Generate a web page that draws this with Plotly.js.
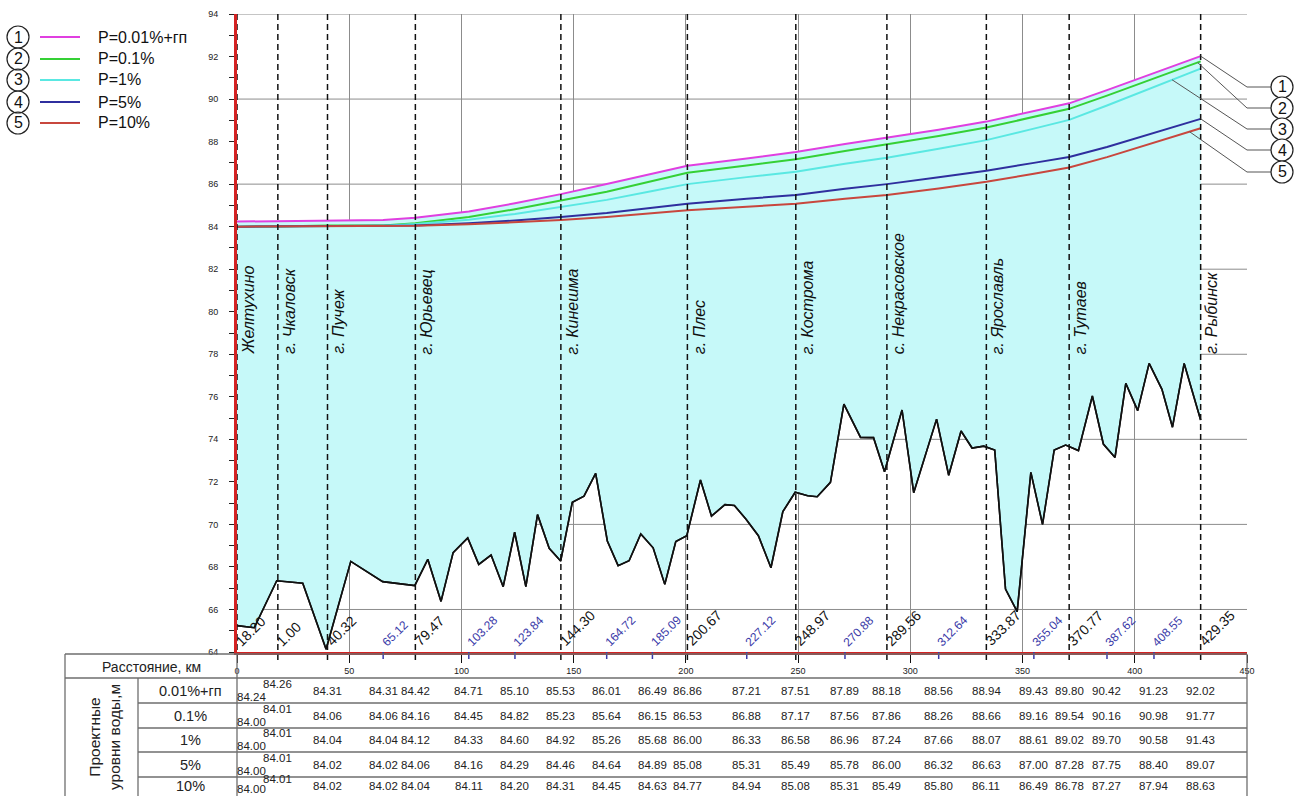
<!DOCTYPE html>
<html><head><meta charset="utf-8">
<script src="https://cdn.plot.ly/plotly-3.0.1.min.js"></script>
<style>html,body{margin:0;padding:0;background:#fff}#chart{width:1299px;height:796px}</style>
</head><body><div id="chart"></div>
<script>
// ---------- DATA ----------
const pointKm = [0, 18.2, 40.32, 65.12, 79.47, 103.28, 123.84, 144.30, 164.72, 185.09, 200.67, 227.12, 248.97, 270.88, 289.56, 312.64, 333.87, 355.04, 370.77, 387.62, 408.55, 429.35];
const pointLabels = ["18.20","1.00","40.32","65.12","79.47","103.28","123.84","144.30","164.72","185.09","200.67","227.12","248.97","270.88","289.56","312.64","333.87","355.04","370.77","387.62","408.55","429.35"];
const pointIsTown = [1,1,1,0,1,0,0,1,0,0,1,0,1,0,1,0,1,0,1,0,0,1];
const townNames = ["Желтухино","г. Чкаловск","г. Пучеж","г. Юрьевец","г. Кинешма","г. Плес","г. Кострома","с. Некрасовское","г. Ярославль","г. Тутаев","г. Рыбинск"];

const level001 = [84.24,84.26,84.31,84.31,84.42,84.71,85.10,85.53,86.01,86.49,86.86,87.21,87.51,87.89,88.18,88.56,88.94,89.43,89.80,90.42,91.23,92.02];
const level01  = [84.00,84.01,84.06,84.06,84.16,84.45,84.82,85.23,85.64,86.15,86.53,86.88,87.17,87.56,87.86,88.26,88.66,89.16,89.54,90.16,90.98,91.77];
const level1   = [84.00,84.01,84.04,84.04,84.12,84.33,84.60,84.92,85.26,85.68,86.00,86.33,86.58,86.96,87.24,87.66,88.07,88.61,89.02,89.70,90.58,91.43];
const level5   = [84.00,84.01,84.02,84.02,84.06,84.16,84.29,84.46,84.64,84.89,85.08,85.31,85.49,85.78,86.00,86.32,86.63,87.00,87.28,87.75,88.40,89.07];
const level10  = [84.00,84.01,84.02,84.02,84.04,84.11,84.20,84.31,84.45,84.63,84.77,84.94,85.08,85.31,85.49,85.80,86.11,86.49,86.78,87.27,87.94,88.63];

const seriesNames = ["P=0.01%+гп","P=0.1%","P=1%","P=5%","P=10%"];
const rowLabels = ["0.01%+гп","0.1%","1%","5%","10%"];

const bedKm = [0,7.7,17.7,29.3,39.7,50.7,64.9,79.2,85.0,90.9,96.3,102.8,107.7,113.2,118.6,123.7,128.7,133.9,139.1,144.2,149.4,154.6,159.8,165.0,169.8,174.7,179.9,185.4,190.6,195.5,200.4,206.5,211.4,217.4,221.6,226.8,232.3,237.9,243.2,248.7,254.3,258.5,264.4,270.4,277.8,283.6,288.5,296.3,301.5,311.7,317.1,322.6,327.5,332.7,337.6,342.4,347.6,353.7,358.9,364.1,369.2,374.9,381.1,386.0,391.2,396.0,401.3,406.4,412.1,416.8,422.0,429.35];
const bedLevel = [65.24,65.14,67.35,67.23,64.13,68.26,67.31,67.12,68.36,66.38,68.67,69.36,68.12,68.56,67.07,69.63,67.07,70.46,68.88,68.28,71.04,71.33,72.40,69.22,68.06,68.29,69.55,68.90,67.18,69.19,69.47,72.09,70.39,70.93,70.89,70.24,69.47,67.96,70.60,71.51,71.35,71.30,71.98,75.66,74.09,74.08,72.48,75.38,71.49,74.95,72.31,74.39,73.59,73.68,73.50,66.96,65.90,72.45,70.00,73.50,73.73,73.47,76.04,73.78,73.15,76.63,75.35,77.57,76.35,74.57,77.57,74.91];

const xTickVals = [0,50,100,150,200,250,300,350,400,450];
const yTickVals = [64,66,68,70,72,74,76,78,80,82,84,86,88,90,92,94];
const yGridVals = [66,70,74,78,82,86,90,94];

// ---------- STYLE / LAYOUT HELPERS ----------
const W=1299, H=796, L=237, R=52, T=14, B=144;
const PW=W-L-R, PH=H-T-B;
const px = X => (X-L)/PW;
const py = Y => (H-B-Y)/PH;
const yFromPix = Y => 64 + (H-B-Y)/PH*30;
const colors = ["#e03fe0","#35d035","#5ae8e2","#2f2f9e","#c8473e"];
const levels = [level001, level01, level1, level5, level10];
const FONT = "Liberation Sans, Arial, sans-serif";

function interp(xs, ys, x){
  for(let i=1;i<xs.length;i++){ if(x<=xs[i]){ const t=(x-xs[i-1])/(xs[i]-xs[i-1]); return ys[i-1]+t*(ys[i]-ys[i-1]); } }
  return ys[ys.length-1];
}

// ---------- TRACES ----------
const traces = [];
traces.push({x: bedKm, y: bedLevel, mode:'lines', line:{color:'#111', width:1.6}, hoverinfo:'skip', showlegend:false});
traces.push({x: pointKm, y: level001, mode:'lines', fill:'tonexty', fillcolor:'#c6f9f9', line:{color:colors[0], width:2}, hoverinfo:'skip', showlegend:false});
for(let k=1;k<5;k++){
  traces.push({x: pointKm, y: levels[k], mode:'lines', line:{color:colors[k], width:2}, hoverinfo:'skip', showlegend:false});
}
traces.push({x: bedKm, y: bedLevel, mode:'lines', line:{color:'#111', width:1.6}, hoverinfo:'skip', showlegend:false});

// ---------- SHAPES ----------
const shapes = [];
yGridVals.forEach(v => shapes.push({type:'line', xref:'paper', yref:'y', x0:0, x1:1, y0:v, y1:v, line:{color:'#8c8c8c', width:1}, layer:'below'}));
pointKm.forEach((km,i) => {
  if(pointIsTown[i]){
    shapes.push({type:'line', xref:'x', yref:'paper', x0:km, x1:km, y0:py(660), y1:1, line:{color:'#111', width:1.5, dash:'6px,4px'}});
  } else {
    shapes.push({type:'line', xref:'x', yref:'paper', x0:km, x1:km, y0:py(659), y1:0, line:{color:'#3a3aa8', width:1.5}});
  }
});
const leaderKm = [429.35, 428.0, 416.6, 429.35, 424.4];
const circleY = [87,108,129,150,172];
for(let k=0;k<5;k++){
  const y0 = interp(pointKm, levels[k], leaderKm[k]);
  shapes.push({type:'line', xref:'x', yref:'y', x0:leaderKm[k], y0:y0, x1:450, y1:yFromPix(circleY[k]), line:{color:'#555', width:1}});
  shapes.push({type:'line', xref:'paper', yref:'paper', x0:px(1247), x1:px(1271), y0:py(circleY[k]), y1:py(circleY[k]), line:{color:'#555', width:1}});
  shapes.push({type:'circle', xref:'paper', yref:'paper', x0:px(1271), x1:px(1293), y0:py(circleY[k]-11), y1:py(circleY[k]+11), line:{color:'#222', width:1.2}, fillcolor:'#fff'});
}
const legY = [37,59,80,102,123];
for(let k=0;k<5;k++){
  shapes.push({type:'circle', xref:'paper', yref:'paper', x0:px(7), x1:px(29), y0:py(legY[k]-11), y1:py(legY[k]+11), line:{color:'#222', width:1.2}});
  shapes.push({type:'line', xref:'paper', yref:'paper', x0:px(40), x1:px(80), y0:py(legY[k]), y1:py(legY[k]), line:{color:colors[k], width:2}});
}
const tl = (x0,y0,x1,y1) => shapes.push({type:'line', xref:'paper', yref:'paper', x0:px(x0), x1:px(x1), y0:py(y0), y1:py(y1), line:{color:'#6e6e6e', width:1.3}});
tl(65,654,1247,654); tl(65,678,1247,678);
[703,728,752,777].forEach(y => tl(138,y,1247,y));
tl(65,654,65,796); tl(138,678,138,796); tl(237,654,237,796); tl(1247,654,1247,796);

// ---------- ANNOTATIONS ----------
const ann = [];
let ti = 0;
pointKm.forEach((km,i) => {
  if(pointIsTown[i]){
    ann.push({x:km, y:78, xref:'x', yref:'y', text:'<i>'+townNames[ti]+'</i>', textangle:-90, showarrow:false, xanchor:'left', yanchor:'bottom', xshift:1, yshift:-2, font:{family:FONT, size:16, color:'#111'}});
    ti++;
  }
  ann.push({x:km, y:64, xref:'x', yref:'y', text:pointLabels[i], textangle:-45, showarrow:false, xanchor:'left', yanchor:'bottom', xshift:-7, yshift:0,
    font:{family:FONT, size: pointIsTown[i]?14:12, color: pointIsTown[i]?'#111':'#3a3aa8'}});
});
const rowY = [691,715.5,740,764.5,786];
levels.forEach((lv,r) => {
  lv.forEach((v,i) => {
    let a = {x:pointKm[i], y:py(rowY[r]), xref:'x', yref:'paper', text:v.toFixed(2), showarrow:false, xanchor:'center', yanchor:'middle', font:{family:FONT, size:11.5, color:'#222'}};
    if(i===0){ a.xanchor='left'; a.yshift= (r===4 ? -3 : -6); a.xshift=-2; }
    if(i===1){ a.yshift=7; }
    ann.push(a);
  });
  ann.push({x:px(190), y:py(rowY[r]), xref:'paper', yref:'paper', text:rowLabels[r], showarrow:false, xanchor:'center', yanchor:'middle', font:{family:FONT, size:14.5, color:'#222'}});
});
ann.push({x:px(151), y:py(667), xref:'paper', yref:'paper', text:'Расстояние, км', showarrow:false, xanchor:'center', yanchor:'middle', font:{family:FONT, size:14, color:'#222'}});
ann.push({x:px(104), y:py(737), xref:'paper', yref:'paper', text:'Проектные<br>уровни воды,м', textangle:-90, showarrow:false, xanchor:'center', yanchor:'middle', font:{family:FONT, size:15.5, color:'#222'}});
for(let k=0;k<5;k++){
  ann.push({x:px(18), y:py(legY[k]), xref:'paper', yref:'paper', text:String(k+1), showarrow:false, xanchor:'center', yanchor:'middle', font:{family:FONT, size:16, color:'#111'}});
  ann.push({x:px(96), y:py(legY[k]), xref:'paper', yref:'paper', text:seriesNames[k], showarrow:false, xanchor:'left', yanchor:'middle', font:{family:FONT, size:16, color:'#111'}});
  ann.push({x:px(1282), y:py(circleY[k]), xref:'paper', yref:'paper', text:String(k+1), showarrow:false, xanchor:'center', yanchor:'middle', font:{family:FONT, size:16, color:'#111'}});
}

const layout = {
  width:W, height:H, margin:{l:L, r:R, t:T, b:B, pad:0},
  paper_bgcolor:'#fff', plot_bgcolor:'#fff', showlegend:false,
  xaxis:{range:[0,450], tickvals:xTickVals, ticks:'outside', ticklen:8, tickcolor:'#111', tickwidth:1,
    showgrid:true, gridcolor:'#8c8c8c', gridwidth:1, zeroline:false,
    showline:true, linecolor:'#d42222', linewidth:3, tickfont:{family:FONT, size:9, color:'#222'}, fixedrange:true},
  yaxis:{range:[64,94], tickvals:yTickVals, ticks:'', showgrid:false, zeroline:false,
    showline:true, linecolor:'#d42222', linewidth:3, ticklabelstandoff:14,
    minor:{dtick:1, tick0:64, ticks:'outside', ticklen:5, tickcolor:'#222', showgrid:false},
    tickfont:{family:FONT, size:9, color:'#222'}, fixedrange:true},
  shapes:shapes, annotations:ann
};
Plotly.newPlot('chart', traces, layout, {displayModeBar:false, staticPlot:true});
</script></body></html>
